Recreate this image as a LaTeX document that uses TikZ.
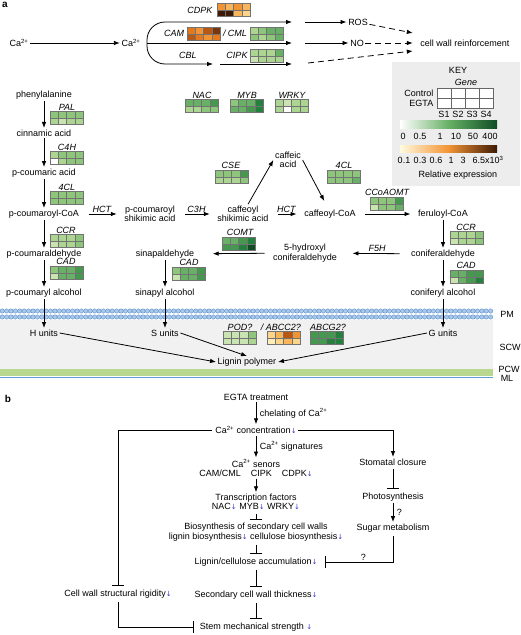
\documentclass[tikz,border=0pt]{standalone}
\usepackage{fontspec}
\setmainfont{Liberation Sans}
\newfontfamily\symfont{DejaVu Sans}
\usetikzlibrary{arrows.meta}

\definecolor{g0}{HTML}{FFFFFF}
\definecolor{g1}{HTML}{E6F2D6}
\definecolor{g2}{HTML}{C9E4B0}
\definecolor{g3}{HTML}{ACD592}
\definecolor{g4}{HTML}{8DC57A}
\definecolor{g5}{HTML}{67B066}
\definecolor{g6}{HTML}{44994F}
\definecolor{g7}{HTML}{23803D}
\definecolor{g8}{HTML}{0F4E24}
\definecolor{o0}{HTML}{FFFBE0}
\definecolor{o1}{HTML}{FEEDB8}
\definecolor{o2}{HTML}{FCD58A}
\definecolor{o3}{HTML}{F8B55A}
\definecolor{o4}{HTML}{F29434}
\definecolor{o5}{HTML}{E5781D}
\definecolor{o6}{HTML}{B85812}
\definecolor{o7}{HTML}{7A360A}
\definecolor{o8}{HTML}{3E1A04}
\definecolor{dnblue}{HTML}{3A3ACF}
\definecolor{lipid}{HTML}{A9C8EA}
\definecolor{lipidline}{HTML}{5B8FCB}
\definecolor{scwgray}{HTML}{F1F1F1}
\definecolor{keygray}{HTML}{EDEDED}
\definecolor{pcwgreen}{HTML}{B7D88E}
\definecolor{mlblue}{HTML}{5C9BD3}

\newcommand{\cai}{Ca\textsuperscript{2+}}
\newcommand{\dn}{{\symfont\fontsize{7}{7}\selectfont\color{dnblue}↓}}
% heat map: top left corner, Control row, EGTA row
\newcommand{\heat}[3]{%
  \begin{scope}[shift={(#1)}]
    \foreach \hc [count=\k from 0] in {#2}
      \filldraw[cell, fill=\hc] (\k*8.25,0) rectangle ++(8.25,6.75);
    \foreach \hc [count=\k from 0] in {#3}
      \filldraw[cell, fill=\hc] (\k*8.25,6.75) rectangle ++(8.25,6.75);
  \end{scope}}

\begin{document}
\begin{tikzpicture}[x=1pt,y=-1pt,
    every node/.style={font=\fontsize{9}{9.5}\selectfont,inner sep=1.5pt},
    gene/.style={font=\fontsize{9}{9.5}\selectfont\itshape},
    lbl/.style={font=\fontsize{10}{12}\selectfont\bfseries},
    arr/.style={line width=0.8pt,-{Latex[length=6pt,width=4.5pt]}},
    hz/.style={arr,shorten <=8pt,shorten >=6pt},
    dsh/.style={arr,dash pattern=on 6pt off 4pt},
    tb/.style={line width=0.8pt,shorten >=2pt,shorten <=2pt,-{Bar[width=12pt,line width=0.8pt]}},
    cell/.style={draw=black!55,line width=0.3pt},
    lip/.style={fill=lipid,draw=lipidline,line width=0.4pt}]
\useasboundingbox (0,0) rectangle (520,635);

% cell wall layers
\fill[scwgray] (0,320) rectangle (493,369);
\fill[pcwgreen] (0,369) rectangle (493,376);
\draw[mlblue,line width=1.2pt] (0,377.5) -- (493,377.5);
\foreach \x in {2.2,6.6,...,492}
  {\filldraw[lip] (\x,311) circle[radius=2.2pt];
   \filldraw[lip] (\x,317) circle[radius=2.2pt];}
\node at (507,314) (pm) {PM};
\node at (510,347) (scw) {SCW};
\node at (509,369) (pcw) {PCW};
\node at (507,378) (ml) {ML};

% key
\fill[keygray] (392,62) rectangle (520,186);
\node at (458,70) (key) {KEY};
\node[gene] at (466,82) (gn) {Gene};
\node[anchor=east] at (435,93) (ctl) {Control};
\node[anchor=east] at (435,103) (egk) {EGTA};
\foreach \k [count=\n] in {0,...,3}
  {\filldraw[fill=white,draw=black!60,line width=0.4pt] (437+\k*14,88) rectangle ++(14,10);
   \filldraw[fill=white,draw=black!60,line width=0.4pt] (437+\k*14,98) rectangle ++(14,10);
   \node at (444+\k*14,114) (s\n) {S\n};}
\shade[left color=white,right color=g8,middle color=g5] (400,120) rectangle (497,128);
\foreach \v/\x in {0/403,0.5/420,1/440,10/456,50/473,400/490}
  \node at (\x,136) {\v};
\shade[left color=o0,right color=o8,middle color=o4] (400,145) rectangle (497,152);
\foreach \v/\x in {0.1/404,0.3/420,0.6/436,1/451,3/463,{6.5x10\textsuperscript{3}}/488}
  \node at (\x,160) {\v};
\node at (458,175) (relx) {Relative expression};

% calcium signalling
\node[lbl] at (5,5) (pa) {a};
\node at (19,43) (ca1) {\cai};
\node at (131,43) (ca2) {\cai};
\draw[arr] (ca1) -- (ca2);
\node[gene] at (200,10) (cdpk) {CDPK};
\heat{217,3}{o4,o3,o4,o3}{o8,o8,o3,o2}
\node[gene] at (174,33) (cam) {CAM};
\heat{187,27}{o5,o4,o6,o7}{o6,o5,o4,o5}
\node[gene] at (235,33) (cml) {/ CML};
\heat{250,27}{g3,g4,g5,g5}{g4,g3,g4,g5}
\node[gene] at (188,55) (cbl) {CBL};
\node[gene] at (237,55) (cipk) {CIPK};
\heat{250,49}{g3,g3,g3,g5}{g2,g3,g3,g3}
\coordinate (fork) at (147,43);
\coordinate (t1) at (292,22); \coordinate (t2) at (305,22);
\coordinate (m1) at (292,43); \coordinate (m2) at (305,43);
\coordinate (b1) at (213,64); \coordinate (b2) at (220,64);
\coordinate (b3) at (292,64); \coordinate (b4) at (308,63);
\draw[arr,rounded corners=18pt] (fork) |- (t1);
\draw[arr] (fork) -- (m1);
\draw[arr,rounded corners=18pt] (fork) |- (b1);
\draw[arr] (b2) -- (b3);
\node at (358,22) (ros) {ROS};
\node at (357,43) (no) {NO};
\node at (465,43) (cwr) {cell wall reinforcement};
\draw[arr] (t2) -- (ros);
\draw[arr] (m2) -- (no);
\draw[dsh] (ros) -- ([xshift=-6pt,yshift=10pt]cwr.west);
\draw[dsh] (no) -- ([xshift=-6pt]cwr.west);
\draw[dsh] (b4) -- ([xshift=-6pt,yshift=-8pt]cwr.west);

% transcription factors
\node[gene] at (202,95) (nac) {NAC};
\heat{185,99}{g5,g5,g5,g6}{g3,g3,g4,g4}
\node[gene] at (247,95) (myb) {MYB};
\heat{230,99}{g4,g5,g5,g7}{g5,g5,g6,g7}
\node[gene] at (292,95) (wrky) {WRKY};
\heat{275,99}{g3,g2,g3,g3}{g3,g0,g3,g3}

% monolignol pathway
\node at (44,95) (phe) {phenylalanine};
\node at (44,133) (cin) {cinnamic acid};
\node at (44,173) (pcou) {p-coumaric acid};
\node at (44,214) (pcoa) {p-coumaroyl-CoA};
\node at (44,254) (pald) {p-coumaraldehyde};
\node at (44,293) (palc) {p-coumaryl alcohol};
\node at (44,333) (hun) {H units};
\node[align=center] at (150,214) (pshik) {p-coumaroyl\\shikimic acid};
\node[align=center] at (243,214) (cshik) {caffeoyl\\shikimic acid};
\node[align=center] at (288,160) (caf) {caffeic\\acid};
\node at (330,214) (ccoa) {caffeoyl-CoA};
\node at (443,214) (fcoa) {feruloyl-CoA};
\node at (443,254) (conald) {coniferaldehyde};
\node at (443,293) (conalc) {coniferyl alcohol};
\node at (443,333) (gun) {G units};
\node[align=center] at (305,253) (hydr) {5-hydroxyl\\coniferaldehyde};
\node at (165,254) (sinald) {sinapaldehyde};
\node at (165,293) (sinalc) {sinapyl alcohol};
\node at (165,333) (sun) {S units};
\node at (247,362) (lig) {Lignin polymer};

\node[gene] at (67,107) (pal) {PAL};
\heat{50,111}{g4,g4,g4,g4}{g3,g2,g3,g3}
\node[gene] at (67,147) (c4h) {C4H};
\heat{50,151}{g3,g4,g4,g4}{g0,g3,g4,g4}
\node[gene] at (67,187) (cla) {4CL};
\heat{50,191}{g4,g4,g4,g4}{g4,g4,g4,g4}
\node[gene] at (66,230) (ccra) {CCR};
\heat{50,234}{g3,g3,g3,g4}{g2,g3,g3,g4}
\node[gene] at (66,261) (cada) {CAD};
\heat{50,266}{g4,g5,g5,g6}{g2,g5,g5,g6}
\node[gene] at (231,165) (cse) {CSE};
\heat{215,170}{g4,g4,g4,g6}{g3,g3,g3,g4}
\node[gene] at (344,165) (clb) {4CL};
\heat{327,170}{g4,g4,g4,g4}{g4,g4,g4,g5}
\node[gene] at (387,192) (ccoaomt) {CCoAOMT};
\heat{370,197}{g4,g4,g4,g6}{g2,g4,g4,g5}
\node[gene] at (466,227) (ccrb) {CCR};
\heat{450,231}{g3,g3,g3,g4}{g2,g3,g3,g4}
\node[gene] at (466,265) (cadc) {CAD};
\heat{450,270}{g5,g5,g6,g6}{g2,g5,g6,g7}
\node[gene] at (240,232) (comt) {COMT};
\heat{222,237}{g5,g5,g6,g7}{g6,g6,g7,g8}
\node[gene] at (189,262) (cadb) {CAD};
\heat{172,267}{g4,g5,g5,g6}{g2,g5,g5,g6}
\node[gene] at (240,327) (pod) {POD?};
\heat{223,331}{g2,g2,g2,g4}{g2,g2,g2,g3}
\node[gene] at (281,327) (abcc) {/ ABCC2?};
\heat{267,331}{o2,o3,o6,o4}{o1,o2,o3,o2}
\node[gene] at (328,327) (abcg) {ABCG2?};
\heat{310,331}{g6,g6,g6,g7}{g6,g6,g7,g7}

\draw[arr] (phe) -- (cin);
\draw[arr] (cin) -- (pcou);
\draw[arr] (pcou) -- (pcoa);
\draw[arr] (pcoa) -- (pald);
\draw[arr] (pald) -- (palc);
\draw[arr] (palc) -- (hun);
\draw[hz] (pcoa) -- node[gene,above] {HCT} (pshik);
\draw[hz] (pshik) -- node[gene,above] {C3H} (cshik);
\draw[hz] (cshik) -- node[gene,above] {HCT} (ccoa);
\draw[arr] ([xshift=5pt]cshik.north) -- (caf.west);
\draw[arr,shorten >=8pt] (caf.east) -- ([xshift=-2pt]ccoa.north);
\draw[hz] (ccoa) -- (fcoa);
\draw[arr] (fcoa) -- (conald);
\draw[arr] (conald) -- (conalc);
\draw[arr] (conalc) -- (gun);
\draw[arr,shorten <=10pt,shorten >=14pt] (conald) -- node[gene,above,xshift=3pt] {F5H} (hydr);
\draw[arr,shorten <=7pt,shorten >=17pt] (hydr) -- (sinald);
\draw[arr] (sinald) -- (sinalc);
\draw[arr] (sinalc) -- (sun);
\draw[arr] (hun.east) -- (lig.west);
\draw[arr] (sun.east) -- (lig.north);
\draw[arr] (gun.west) -- (lig.east);

% panel b
\node[lbl] at (8,399) (pb) {b};
\node at (256,397) (egta) {EGTA treatment};
\node at (256,430) (cac) {\cai{} concentration\dn};
\node[align=center] at (256,468) (sens) {\cai{} senors\\CAM/CML\hspace{10pt}CIPK\hspace{10pt}CDPK\dn};
\node[align=center] at (256,502) (tf) {Transcription factors\\NAC\dn{} MYB\dn{} WRKY\dn};
\node[align=center] at (256,532) (bio) {Biosynthesis of secondary cell walls\\lignin biosynthesis\dn{} cellulose biosynthesis\dn};
\node at (256,562) (lca) {Lignin/cellulose accumulation\dn};
\node at (256,595) (scwt) {Secondary cell wall thickness\dn};
\node at (256,627) (stem) {Stem mechanical strength \dn};
\node at (393,462) (stom) {Stomatal closure};
\node at (393,497) (photo) {Photosynthesis};
\node at (393,528) (sugar) {Sugar metabolism};
\node at (118,594) (rig) {Cell wall structural rigidity\dn};

\draw[arr] (egta) -- node[right,xshift=2pt] {chelating of \cai} (cac);
\draw[arr] (cac) -- node[right,xshift=2pt] {\cai{} signatures} (sens);
\draw[arr] (sens) -- (tf);
\draw[tb] (tf) -- (bio);
\draw[tb] (bio) -- (lca);
\draw[tb] (lca) -- (scwt);
\draw[tb] (scwt) -- (stem);
\draw[arr] (cac.east) -| (stom);
\draw[tb] (stom) -- (photo);
\draw[arr] (photo) -- node[right,xshift=2pt] {?} (sugar);
\draw[tb,shorten >=6pt] (sugar) |- node[above,pos=0.7] {?} (lca.east);
\draw[tb] (cac.west) -| (rig);
\draw[tb,shorten >=4pt] (rig) |- (stem.west);
\end{tikzpicture}
\end{document}
